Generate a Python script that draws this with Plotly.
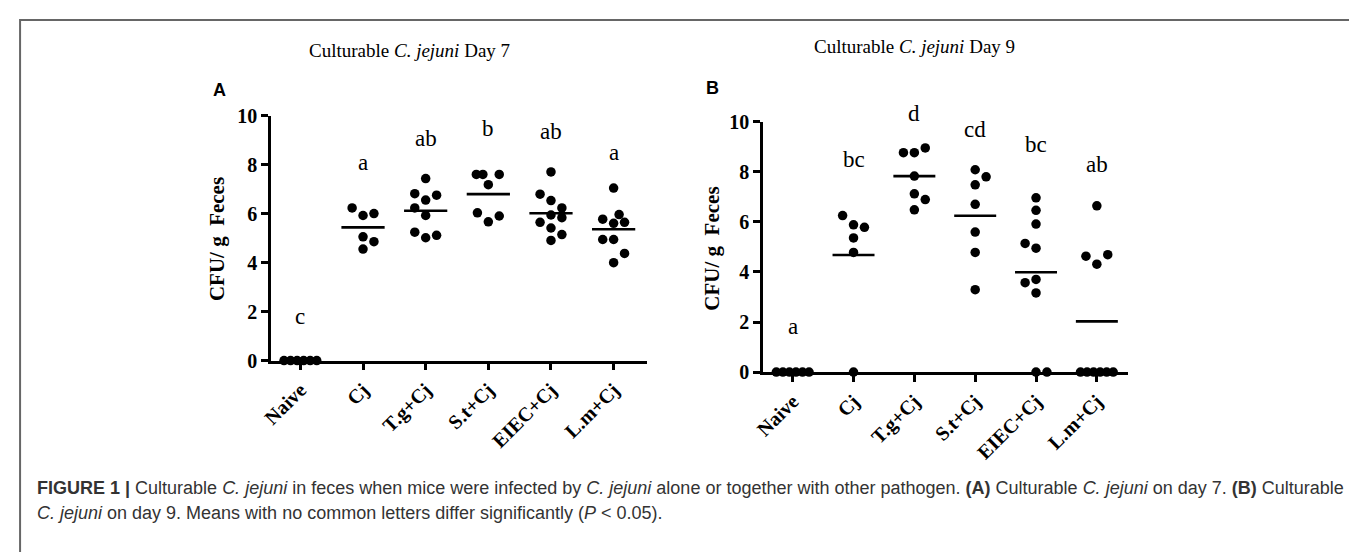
import plotly.graph_objects as go
import numpy as np

# page has an 8px body margin; the figure is sized so it fits the window
OFF = 8
FW, FH = 1349, 544

categories = ["Naive", "Cj", "T.g+Cj", "S.t+Cj", "EIEC+Cj", "L.m+Cj"]
ytick_vals = [0, 2, 4, 6, 8, 10]

# ---- Day 7 (panel A) values, log10 CFU/g feces ----
d7_naive = [0, 0, 0, 0, 0, 0]
d7_cj = [6.24, 5.93, 6.01, 5.06, 4.86, 4.56]
d7_tg = [7.44, 6.82, 6.76, 6.56, 6.24, 5.93, 5.25, 5.12, 5.02]
d7_st = [7.61, 7.61, 7.61, 7.19, 6.04, 5.91, 5.67]
d7_eiec = [7.71, 6.80, 6.54, 6.24, 5.95, 5.84, 5.65, 5.42, 5.15, 4.91]
d7_lm = [7.05, 5.97, 5.78, 5.65, 5.61, 4.95, 4.95, 4.38, 4.00]
d7_letters = ["c", "a", "ab", "b", "ab", "a"]

# ---- Day 9 (panel B) values ----
d9_naive = [0, 0, 0, 0, 0, 0]
d9_cj = [6.25, 5.88, 5.78, 5.36, 4.78, 0]
d9_tg = [8.95, 8.76, 8.76, 7.83, 7.12, 6.89, 6.48]
d9_st = [8.08, 7.80, 7.48, 6.70, 5.59, 4.78, 3.29]
d9_eiec = [6.96, 6.46, 5.91, 5.14, 4.95, 3.70, 3.57, 3.16, 0, 0]
d9_lm = [6.64, 4.69, 4.63, 4.31, 0, 0, 0, 0, 0, 0]
d9_letters = ["a", "bc", "d", "cd", "bc", "ab"]

# horizontal scatter column index of each dot (dot-plot spreading)
chain = [-1.5, -0.9, -0.3, 0.3, 0.9, 1.5]
d7_cols = [chain,
           [-1, 0, 1, 0, 1, 0],
           [0, -1, 1, 0, -1, 0, -1, 1, 0],
           [-1.1, -0.5, 1, 0, -1, 1, 0],
           [0, -1, 0, 1, 0, 1, -1, 0, 1, 0],
           [0, 0.5, -1, 1, 0, -1, 0, 1, 0]]
d9_cols = [chain,
           [-1, 0, 1, 0, 0, 0],
           [1, -1, 0, 0, 0, 1, 0],
           [0, 1, 0, 0, 0, 0, 0],
           [0, 0, 0, -1, 0, 0, -1, 0, 0, 1],
           [0, 1, -1, 0] + chain]

# letter heights (data units) above each group
d7_letter_y = [1.8, 8.1, 9.06, 9.5, 9.37, 8.5]
d9_letter_y = [1.84, 8.47, 10.34, 9.69, 9.08, 8.28]

d7_groups = [d7_naive, d7_cj, d7_tg, d7_st, d7_eiec, d7_lm]
d9_groups = [d9_naive, d9_cj, d9_tg, d9_st, d9_eiec, d9_lm]

SERIF = "Liberation Serif, Times New Roman, serif"
SANS = "Liberation Sans, Arial, Helvetica, sans-serif"


def fx(xp):
    return (xp - OFF) / FW


def fy(yp):
    return 1 - (yp - OFF) / FH


fig = go.Figure()

panels = [
    dict(groups=d7_groups, cols=d7_cols, letters=d7_letters, ly=d7_letter_y,
         xa="x", ya="y", xdom=(262, 641), ydom=(364, 109), xr=(-0.47, 5.53)),
    dict(groups=d9_groups, cols=d9_cols, letters=d9_letters, ly=d9_letter_y,
         xa="x2", ya="y2", xdom=(758, 1126), ydom=(376, 115), xr=(-0.49, 5.51)),
]

for p in panels:
    px_per_cat = (p["xdom"][1] - p["xdom"][0]) / (p["xr"][1] - p["xr"][0])
    unit = 11.0 / px_per_cat
    for i, (vals, cols) in enumerate(zip(p["groups"], p["cols"])):
        xs = [i + c * unit for c in cols]
        fig.add_trace(go.Scatter(
            x=xs, y=vals, mode="markers", xaxis=p["xa"], yaxis=p["ya"],
            marker=dict(color="black", size=9.5, line=dict(width=0)),
            cliponaxis=False, showlegend=False, hoverinfo="y"))
        m = float(np.mean(vals))
        if i > 0:
            fig.add_trace(go.Scatter(
                x=[i - 0.345, i + 0.345], y=[m, m], mode="lines",
                xaxis=p["xa"], yaxis=p["ya"],
                line=dict(color="black", width=2.6),
                cliponaxis=False, showlegend=False, hoverinfo="skip"))
        fig.add_annotation(x=i, y=p["ly"][i] / 10.0, xref=p["xa"],
                           yref=p["ya"] + " domain",
                           text=p["letters"][i], showarrow=False,
                           font=dict(family=SERIF, size=23, color="black"),
                           xanchor="center", yanchor="middle")

axis_common = dict(showline=True, linecolor="black", linewidth=2.5,
                   ticks="outside", ticklen=7, tickwidth=2.5, tickcolor="black",
                   showgrid=False, zeroline=False, fixedrange=True)

for k, p in enumerate(panels):
    sfx = "" if k == 0 else "2"
    fig.update_layout(**{
        "xaxis" + sfx: dict(
            domain=[fx(p["xdom"][0]), fx(p["xdom"][1])], range=list(p["xr"]),
            anchor="y" + sfx, tickmode="array", tickvals=list(range(6)),
            ticktext=categories, tickangle=-45,
            tickfont=dict(family=SERIF, size=20, color="black", weight="bold"),
            **axis_common),
        "yaxis" + sfx: dict(
            domain=[fy(p["ydom"][0]), fy(p["ydom"][1])], range=[0, 10],
            anchor="x" + sfx, tickmode="array", tickvals=ytick_vals,
            tickfont=dict(family=SERIF, size=20, color="black", weight="bold"),
            **axis_common),
    })

annots = [
    (402, 41, "Culturable <i>C. jejuni</i> Day 7", SERIF, 19),
    (911, 37, "Culturable <i>C. jejuni</i> Day 9", SERIF, 19),
    (210, 82, "<b>A</b>", SANS, 18),
    (707, 80, "<b>B</b>", SANS, 18),
]
for xp, yp, t, fam, sz in annots:
    fig.add_annotation(x=fx(xp), y=fy(yp), xref="paper", yref="paper", text=t,
                       showarrow=False, font=dict(family=fam, size=sz, color="black"),
                       xanchor="center", yanchor="middle")

# y-axis titles
for xp, yp in [(207, 237), (707, 247)]:
    fig.add_annotation(x=fx(xp), y=fy(yp), xref="paper", yref="paper",
                       text="<b>CFU/ g  Feces</b>", showarrow=False, textangle=-90,
                       font=dict(family=SERIF, size=21, color="black"),
                       xanchor="center", yanchor="middle")

# caption
cap1 = ("<b>FIGURE 1 |</b> Culturable <i>C. jejuni</i> in feces when mice were infected by "
        "<i>C. jejuni</i> alone or together with other pathogen. <b>(A)</b> Culturable "
        "<i>C. jejuni</i> on day 7. <b>(B)</b> Culturable")
cap2 = ("<i>C. jejuni</i> on day 9. Means with no common letters differ significantly "
        "(<i>P</i> &lt; 0.05).")
for yp, t in [(497, cap1), (523, cap2)]:
    fig.add_annotation(x=fx(24), y=fy(yp), xref="paper", yref="paper", text=t,
                       showarrow=False,
                       font=dict(family=SANS, size=18, color="#333333"),
                       xanchor="left", yanchor="middle", align="left")

# outer frame
fig.add_shape(type="rect", xref="paper", yref="paper",
              x0=fx(8) + 0.0008, x1=fx(1355), y0=-0.2, y1=fy(9),
              line=dict(color="#666666", width=2), fillcolor="rgba(0,0,0,0)")

fig.update_layout(width=FW, height=FH, margin=dict(l=0, r=0, t=0, b=0),
                  paper_bgcolor="white", plot_bgcolor="white", showlegend=False)

fig.write_html("out.html")
